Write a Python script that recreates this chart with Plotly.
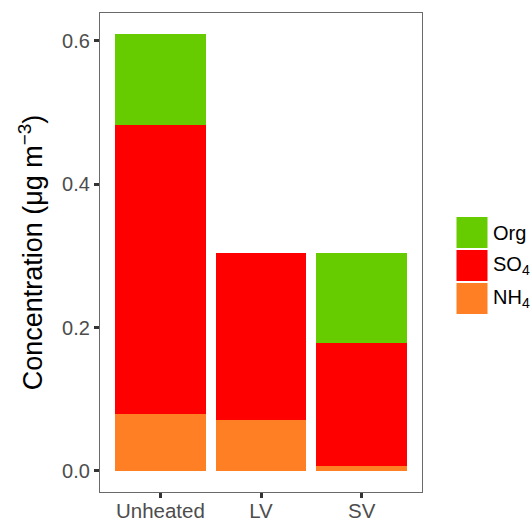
import plotly.graph_objects as go

categories = ["Unheated", "LV", "SV"]
species = ["Org", "SO<sub>4</sub>", "NH<sub>4</sub>"]
nh4 = [0.079, 0.071, 0.0075]
so4 = [0.403, 0.233, 0.1705]
org = [0.127, 0.0, 0.126]
colors = {"Org": "#66CC00", "SO4": "#FF0000", "NH4": "#FF7F24"}
yticks = [0.0, 0.2, 0.4, 0.6]

W, H = 532, 520
ml, mr, mt, mb = 100, 110, 13, 28
pw, ph = W - ml - mr, H - mt - mb
font = "Liberation Sans, Arial, sans-serif"

fig = go.Figure()
for name, vals, col in [("NH4", nh4, colors["NH4"]), ("SO4", so4, colors["SO4"]), ("Org", org, colors["Org"])]:
    fig.add_trace(go.Bar(x=categories, y=vals, name=name, marker=dict(color=col, line=dict(width=0)),
                         showlegend=False))

fig.update_layout(
    barmode="stack", bargap=0.1,
    width=W, height=H,
    margin=dict(l=ml, r=mr, t=mt, b=mb, autoexpand=False),
    paper_bgcolor="white", plot_bgcolor="white",
    font=dict(family=font),
)
fig.update_xaxes(range=[-0.6, 2.6], showline=True, mirror=True, linecolor="#6a6a6a", linewidth=1.3,
                 ticks="outside", ticklen=5, tickwidth=2.5, tickcolor="#333333", automargin=False,
                 ticklabelstandoff=-5,
                 tickfont=dict(size=20.5, color="#4D4D4D"), showgrid=False, zeroline=False)
fig.update_yaxes(range=[-0.0293, 0.6386], tickvals=yticks, ticktext=["%.1f" % v for v in yticks],
                 showline=True, mirror=True, linecolor="#6a6a6a", linewidth=1.3, automargin=False,
                 ticks="outside", ticklen=5, tickwidth=2.5, tickcolor="#333333",
                 tickfont=dict(size=20, color="#4D4D4D"), showgrid=False, zeroline=False,
                 title=dict(text="Concentration (μg m<sup>−3</sup>)", font=dict(size=27, color="black"),
                            standoff=11))

# custom legend
def px2x(px):
    return (px - ml) / pw
def py2y(py):
    return (mt + ph - py) / ph

legend_items = [("Org", colors["Org"]), ("SO<sub>4</sub>", colors["SO4"]), ("NH<sub>4</sub>", colors["NH4"])]
top = 217
for i, (lab, col) in enumerate(legend_items):
    y0 = top + i * 33
    y1 = y0 + 31
    fig.add_shape(type="rect", xref="paper", yref="paper",
                  x0=px2x(456.5), x1=px2x(487.5), y0=py2y(y1), y1=py2y(y0),
                  fillcolor=col, line=dict(width=0))
    fig.add_annotation(xref="paper", yref="paper", x=px2x(491), y=py2y((y0 + y1) / 2),
                       text=lab, showarrow=False, xanchor="left", yanchor="middle",
                       font=dict(size=20, color="black", family=font))

fig.write_html("out.html")
